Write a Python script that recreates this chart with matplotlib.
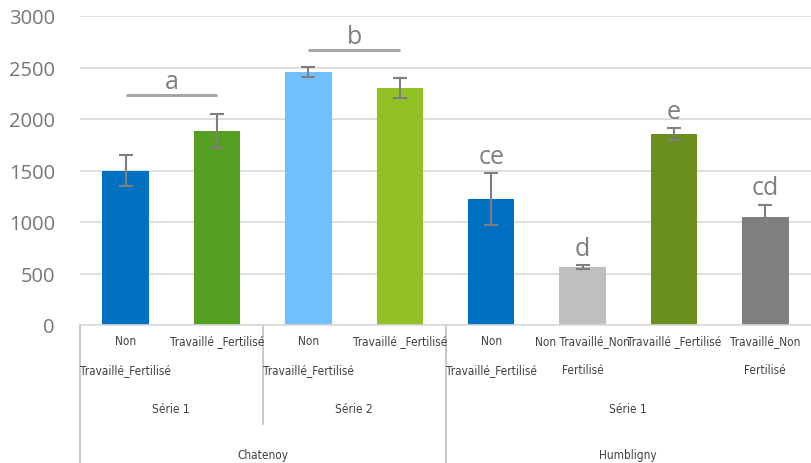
import matplotlib.pyplot as plt
import numpy as np

labels = ["Non\nTravaillé_Fertilisé", "Travaillé _Fertilisé",
          "Non\nTravaillé_Fertilisé", "Travaillé _Fertilisé",
          "Non\nTravaillé_Fertilisé", "Non Travaillé_Non\nFertilisé",
          "Travaillé _Fertilisé", "Travaillé_Non\nFertilisé"]
values = [1500, 1883, 2456, 2300, 1223, 563, 1854, 1048]
errors = [150, 165, 50, 95, 250, 15, 55, 120]
colors = ["#0070c0", "#55a021", "#70c0ff", "#92c126",
          "#0070c0", "#bfbfbf", "#6b8f1f", "#7f7f7f"]
letters = ["", "", "", "", "ce", "d", "e", "cd"]
series = [("Série 1", 0, 1), ("Série 2", 2, 3), ("Série 1", 4, 7)]
sites = [("Chatenoy", 0, 3), ("Humbligny", 4, 7)]
groups = [("a", 0, 1, 2230), ("b", 2, 3, 2670)]

plt.rcParams['font.family'] = ['Open Sans', 'DejaVu Sans']
fig = plt.figure(figsize=(8.11, 4.64), dpi=100)
ax = fig.add_axes([80 / 811, 138 / 464, 731 / 811, 309 / 464])

x = np.arange(len(values))
ax.bar(x, values, width=0.51, color=colors, zorder=2)
ax.errorbar(x, values, yerr=errors, fmt="none", ecolor="#7f7f7f",
            elinewidth=1.5, capsize=5, capthick=1.5, zorder=3)

for i, t in enumerate(letters):
    if t:
        ax.text(i, values[i] + errors[i] + 45, t, ha="center", va="bottom",
                fontsize=18, color="#7f7f7f")
for t, a, b, y in groups:
    ax.plot([a, b], [y, y], color="#a6a6a6", lw=2.2, solid_capstyle="butt")
    ax.text((a + b) / 2, y + 10, t, ha="center", va="bottom",
            fontsize=18, color="#7f7f7f")

ax.set_xlim(-0.5, len(values) - 0.5)
ax.set_ylim(0, 3000)
ax.set_yticks(range(0, 3001, 500))
ax.tick_params(axis="y", length=0, labelsize=14.5, labelcolor="#767676", pad=18)
ax.set_xticks([])
ax.yaxis.grid(True, color="#d9d9d9", lw=1.2)
ax.set_axisbelow(True)
for s in ["top", "right", "left"]:
    ax.spines[s].set_visible(False)
ax.spines["bottom"].set_color("#d9d9d9")
ax.spines["bottom"].set_linewidth(1.2)

tr = ax.get_xaxis_transform()
narrow = dict(family='DejaVu Sans', fontstretch='condensed')
for i, lab in enumerate(labels):
    ax.text(i, -0.03, lab, transform=tr, ha="center", va="top",
            fontsize=8.5, color="#404040", linespacing=2.6, **narrow)
for t, a, b in series:
    ax.text((a + b) / 2, -0.27, t, transform=tr, ha="center", va="center",
            fontsize=8.5, color="#404040", **narrow)
for t, a, b in sites:
    ax.text((a + b) / 2, -0.42, t, transform=tr, ha="center", va="center",
            fontsize=8.5, color="#404040", **narrow)

line_kw = dict(transform=tr, color="#bfbfbf", lw=1.2, clip_on=False)
ax.plot([-0.5, -0.5], [0, -0.45], **line_kw)
ax.plot([1.5, 1.5], [0, -0.32], **line_kw)
ax.plot([3.5, 3.5], [0, -0.45], **line_kw)

fig.savefig("out.png", dpi=100)
